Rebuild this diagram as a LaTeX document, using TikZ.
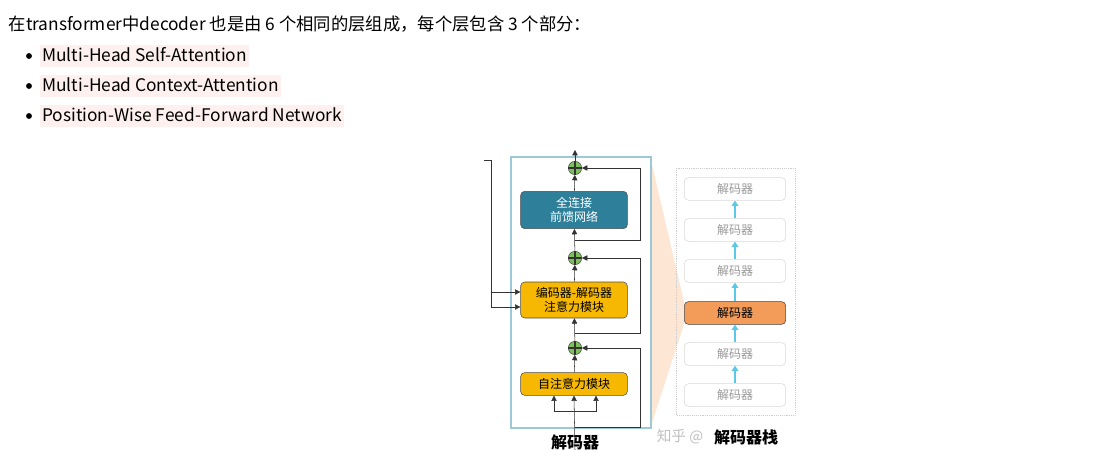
\documentclass[tikz,border=0pt]{standalone}
\usepackage{fontspec}
\setmainfont{Noto Sans CJK SC}
\usetikzlibrary{arrows.meta,positioning}
\definecolor{hlpink}{HTML}{FDF0EE}
\definecolor{boxblue}{HTML}{9CC8D8}
\definecolor{ffnteal}{HTML}{2E7F99}
\definecolor{attyellow}{HTML}{F6B800}
\definecolor{addgreen}{HTML}{7CC15A}
\definecolor{wedge}{HTML}{FDE6D4}
\definecolor{stackorange}{HTML}{F39C5A}
\definecolor{arrowcyan}{HTML}{5BC8E8}
\begin{document}
\begin{tikzpicture}
[x=0.75pt, y=-0.75pt, font=\fontsize{13}{15}\selectfont,
item/.style ={anchor=west, fill=hlpink, inner sep=1.5pt, text height=11pt, text depth=3pt},
layer/.style ={rectangle, draw=black!70, rounded corners=3pt, minimum width=80pt, align=center, font=\fontsize{9}{11}\selectfont},
addop/.style ={circle, draw=black!70, fill=addgreen, inner sep=0pt, minimum size=10pt},
stackbox/.style ={rectangle, draw=black!15, rounded corners=3pt, minimum width=76pt, minimum height=17pt, text=black!40, font=\fontsize{9}{11}\selectfont},
line_res/.style ={draw, black!80, -{Triangle[length=4pt,width=4pt]}},
line_up/.style ={draw, arrowcyan, thick, -{Triangle[length=4pt,width=5pt]}}]
\useasboundingbox (0,0) rectangle (1115,450);

%Text oben
\node[anchor=west] (title) at (4,24) {在transformer中decoder 也是由 6 个相同的层组成，每个层包含 3 个部分：};
\node[item] (i1) at (40,56) {Multi-Head Self-Attention};
\node[item] (i2) at (40,86) {Multi-Head Context-Attention};
\node[item] (i3) at (40,116) {Position-Wise Feed-Forward Network};
\foreach \y in {56,86,116} \fill (29,\y) circle (2.2pt);

%Keil
\fill[wedge] (651,160) -- (684,302) -- (684,324) -- (651,426) -- cycle;

%Decoder
\draw[boxblue, thick, fill=white] (511,157) rectangle (651,428);
\node[layer, fill=ffnteal, text=white, minimum height=28pt] (ffn) at (574,210) {全连接\\前馈网络};
\node[layer, fill=attyellow, minimum height=27pt] (encdec) at (574,300) {编码器-解码器\\注意力模块};
\node[layer, fill=attyellow, minimum height=17pt] (self) at (574,384) {自注意力模块};
\node[addop] (add1) at (575,168) {};
\node[addop] (add2) at (575,258) {};
\node[addop] (add3) at (575,348) {};
\foreach \n in {add1,add2,add3} \draw[black!80, thick] (\n.north) -- (\n.south) (\n.west) -- (\n.east);
\node[font=\bfseries\fontsize{12}{14}\selectfont] (declabel) at (575,442) {解码器};

\coordinate (in) at (575,450);
\coordinate (top) at (575,150);
\coordinate (left) at (484,160);

%Pfeile Decoder
\draw[line_res] (in) -- (self.south);
\draw[line_res] (575,411) -| (self.south -| 554,0);
\draw[line_res] (575,411) -| (self.south -| 596,0);
\draw[line_res] (self) -- (add3);
\draw[line_res] (add3) -- (encdec);
\draw[line_res] (encdec) -- (add2);
\draw[line_res] (add2) -- (ffn);
\draw[line_res] (ffn) -- (add1);
\draw[line_res] (add1) -- (top);
\draw[line_res] (575,427) -| (640,348) -- (add3);
\draw[line_res] (575,333) -| (640,258) -- (add2);
\draw[line_res] (575,240) -| (640,168) -- (add1);
\draw[black!80] (left) -- (491,160) -- (491,307);
\draw[line_res] (491,292) -- (encdec.west |- 0,292);
\draw[line_res] (491,307) -- (encdec.west |- 0,307);

%Stapel
\draw[black!20, densely dotted] (676,168) rectangle (795,415);
\foreach \i/\y in {1/395,2/354,3/313,4/271,5/230,6/189}
  \node[stackbox] (s\i) at (735,\y) {解码器};
\node[stackbox, fill=stackorange, draw=black!70, text=black] at (s3) {解码器};
\foreach \a/\b in {1/2,2/3,3/4,4/5,5/6} \draw[line_up] (s\a) -- (s\b);
\node[font=\bfseries\fontsize{12}{14}\selectfont] (stacklabel) at (746,437) {解码器栈};
\node[text=black!25, font=\fontsize{11}{13}\selectfont] (mark) at (680,437) {知乎 @};
\end{tikzpicture}
\end{document}
